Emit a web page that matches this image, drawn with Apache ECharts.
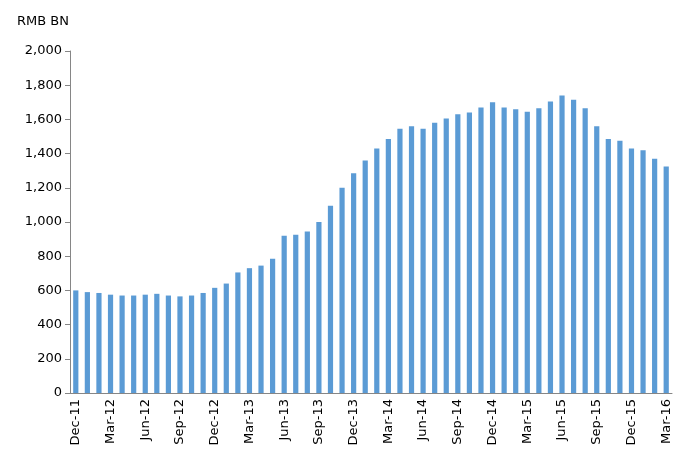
<!DOCTYPE html>
<html><head><meta charset="utf-8">
<script src="https://cdn.jsdelivr.net/npm/echarts@6/dist/echarts.min.js"></script>
<style>html,body{margin:0;padding:0;background:#fff}#c{width:689px;height:472px}</style>
</head><body><div id="c"></div>
<script>
var months = ['Jan','Feb','Mar','Apr','May','Jun','Jul','Aug','Sep','Oct','Nov','Dec'];
var categories = ['Dec-11'];
for (var y = 12; y <= 16; y++) {
    for (var m = 0; m < 12; m++) {
        if (y === 16 && m > 2) break;
        categories.push(months[m] + '-' + y);
    }
}
var values = [
    600, 590, 585, 575, 570, 570, 575, 580, 570, 565, 570, 585,
    615, 640, 705, 730, 745, 785, 920, 925, 945, 1000, 1095, 1200,
    1285, 1360, 1430, 1485, 1545, 1560, 1545, 1580, 1605, 1630, 1640, 1670,
    1700, 1670, 1660, 1645, 1665, 1705, 1740, 1715, 1665, 1560, 1485, 1475,
    1430, 1420, 1370, 1325
];

var chart = echarts.init(document.getElementById('c'));
chart.setOption({
    animation: false,
    grid: { left: 70, right: 17, top: 51, bottom: 79 },
    title: {
        text: 'RMB BN', left: 12, top: 10,
        textStyle: { fontFamily: 'DejaVu Sans', fontSize: 13, fontWeight: 'normal', color: '#000' }
    },
    xAxis: {
        type: 'category',
        data: categories,
        axisLine: { lineStyle: { color: '#868686' } },
        axisTick: { alignWithLabel: false, interval: 2, lineStyle: { color: '#868686' } },
        axisLabel: { interval: 2, rotate: 90, color: '#000', fontFamily: 'DejaVu Sans', fontSize: 13, margin: 6 }
    },
    yAxis: {
        type: 'value', min: 0, max: 2000, interval: 200,
        axisLine: { show: true, lineStyle: { color: '#868686' } },
        axisTick: { show: true, lineStyle: { color: '#868686' } },
        splitLine: { show: false },
        axisLabel: { color: '#000', fontFamily: 'DejaVu Sans', fontSize: 13, margin: 8 }
    },
    series: [{
        type: 'bar',
        data: values,
        barWidth: '45%',
        itemStyle: { color: '#5b9bd5' }
    }]
});
</script></body></html>
